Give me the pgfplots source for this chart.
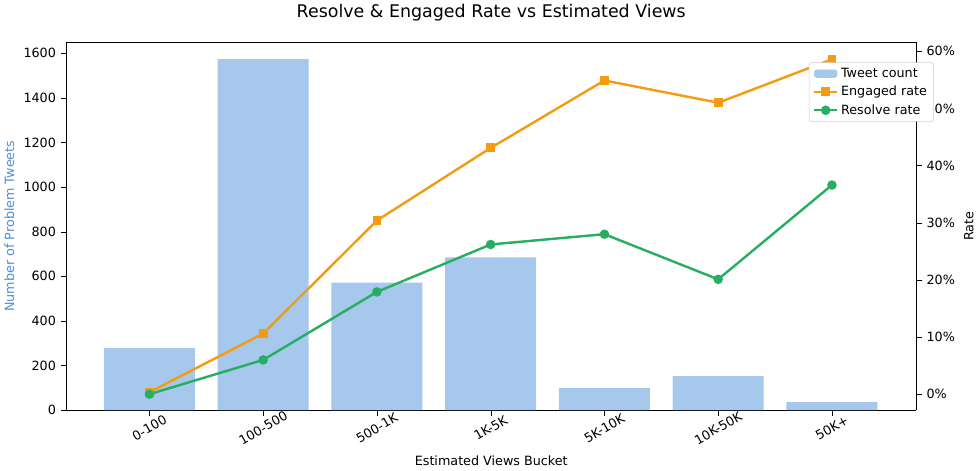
\documentclass[border=0pt]{standalone}
\usepackage{pgfplots}
\pgfplotsset{compat=1.18}
\usepackage{fontspec}
\setmainfont{DejaVu Sans}
\definecolor{barcol}{HTML}{A6C8ED}
\definecolor{eng}{HTML}{F39C12}
\definecolor{res}{HTML}{27AE60}
\definecolor{lab}{HTML}{4A90D9}
\begin{document}
\begin{tikzpicture}
\pgfplotsset{every axis/.append style={width=633.75pt,height=274.5pt,scale only axis,
  xmin=-0.73,xmax=6.74,font=\fontsize{9.5}{11.5}\selectfont,
  /pgf/number format/assume math mode=true, /pgf/number format/1000 sep={}}}
\begin{axis}[axis y line*=left, ymin=0, ymax=1649,
  xtick={0,...,6}, xticklabels={0-100,100-500,500-1K,1K-5K,5K-10K,10K-50K,50K+},
  xtick pos=bottom,
  xticklabel style={yshift=-9pt,rotate=30,anchor=center},
  ytick={0,200,...,1600}, scaled y ticks=false,
  tick align=outside, tick style={black},
  ylabel={Number of Problem Tweets}, ylabel style={color=lab},
  xlabel={Estimated Views Bucket},
  title={Resolve \& Engaged Rate vs Estimated Views}, title style={font=\fontsize{13}{15}\selectfont, yshift=6pt}]
\addplot[ybar, bar width=0.8, bar shift=0pt, fill=barcol, draw=none] coordinates {(0,279)(1,1573)(2,572)(3,685)(4,99)(5,153)(6,36)};
\end{axis}
\begin{axis}[axis y line*=right, axis x line=none, ymin=-2.8, ymax=61.6,
  ytick={0,10,...,60}, yticklabel={\pgfmathprintnumber{\tick}\%},
  tick align=outside, tick style={black}, ylabel={Rate},
  legend style={at={(1.021,0.945)},anchor=north east,draw=black!20,rounded corners=2pt,font=\fontsize{9.5}{12}\selectfont,row sep=1pt},
  legend cell align=left]
\addlegendimage{area legend, fill=barcol, draw=barcol}
\addlegendentry{Tweet count}
\addplot[eng, line width=1.8pt, mark=square*, mark size=2.4pt] coordinates {(0,0.35)(1,10.6)(2,30.4)(3,43.1)(4,54.9)(5,51.0)(6,58.6)};
\addlegendentry{Engaged rate}
\addplot[res, line width=1.8pt, mark=*, mark size=2.6pt] coordinates {(0,0)(1,6.0)(2,17.9)(3,26.2)(4,28.0)(5,20.1)(6,36.6)};
\addlegendentry{Resolve rate}
\end{axis}
\end{tikzpicture}
\end{document}
